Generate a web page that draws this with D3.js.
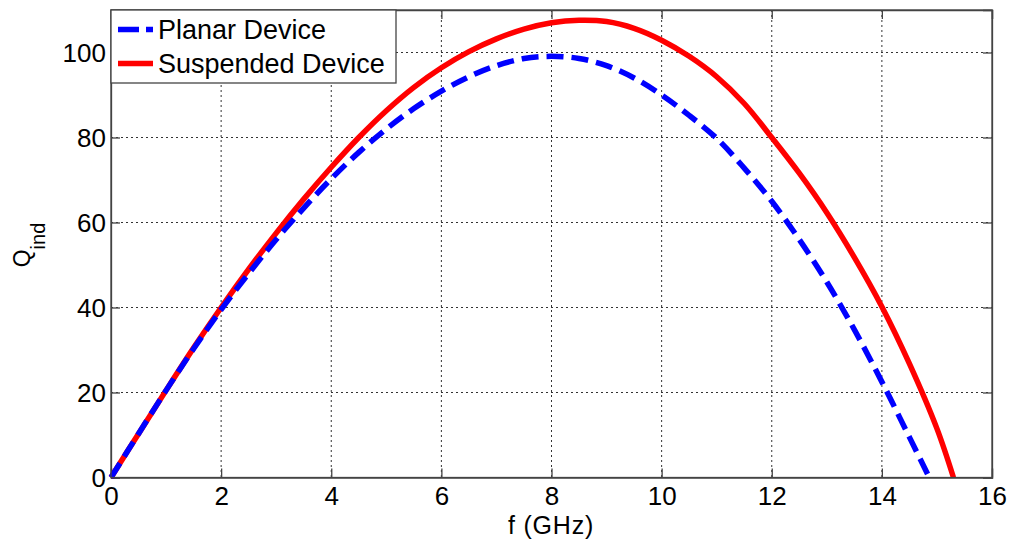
<!DOCTYPE html>
<html><head><meta charset="utf-8">
<script src="https://cdn.jsdelivr.net/npm/d3@7"></script>
<style>body{margin:0;background:#fff;} svg{display:block;font-family:"Liberation Sans",Arial,sans-serif;}</style>
</head><body><svg id="c" width="1018" height="547"></svg>
<script>
const freqPlanar = [0,0.5,1,1.5,2,2.5,3,3.5,4,4.5,5,5.5,6,6.5,7,7.5,8,8.5,9,9.5,10,10.5,11,11.5,12,12.5,13,13.5,14,14.5,14.86];
const qPlanar    = [0,10.3,20.5,30.3,39.5,48,56,63.4,70.3,76.5,82,86.8,90.9,94.3,96.9,98.6,99.1,98.6,96.9,94,90,85.2,79.8,72.8,65,56,46,34.8,22.5,9.5,0];
const freqSusp   = [0,0.5,1,1.5,2,2.5,3,3.5,4,4.5,5,5.5,6,6.5,7,7.5,8,8.5,9,9.5,10,10.5,11,11.5,12,12.5,13,13.5,14,14.5,15,15.3];
const qSusp      = [0,10.3,20.5,30.5,40,49,57.5,65.5,73,80,86.3,91.8,96.4,100.2,103.2,105.5,107,107.6,107.3,105.7,102.9,99.1,94.3,88,80,71.6,62.3,51.8,40.2,26.8,11.5,0];
const xTicks = [0,2,4,6,8,10,12,14,16];
const yTicks = [0,20,40,60,80,100];
const seriesNames = ["Planar Device","Suspended Device"];

const svg = d3.select("#c");
const L=111, R=992, T=10, B=477.5;
const x = d3.scaleLinear().domain([0,16]).range([L,R]);
const y = d3.scaleLinear().domain([0,110]).range([B,T]);
const axisColor="#444";
const FF="Liberation Sans, Arial, sans-serif";

// grid
const g = svg.append("g");
g.selectAll(".vg").data(xTicks.slice(1,-1)).enter().append("line")
 .attr("x1",d=>x(d)).attr("x2",d=>x(d)).attr("y1",T).attr("y2",B)
 .attr("stroke","#333").attr("stroke-width",1).attr("stroke-dasharray","2,3");
g.selectAll(".hg").data(yTicks.slice(1)).enter().append("line")
 .attr("x1",L).attr("x2",R).attr("y1",d=>y(d)).attr("y2",d=>y(d))
 .attr("stroke","#333").attr("stroke-width",1).attr("stroke-dasharray","2,3");

// axes
const xa = svg.append("g").attr("transform",`translate(0,${B})`)
 .call(d3.axisBottom(x).tickValues(xTicks).tickSize(-9).tickPadding(9).tickFormat(d3.format("d")));
const xt = svg.append("g").attr("transform",`translate(0,${T})`)
 .call(d3.axisTop(x).tickValues(xTicks).tickSize(-9).tickFormat(""));
const ya = svg.append("g").attr("transform",`translate(${L},0)`)
 .call(d3.axisLeft(y).tickValues(yTicks).tickSize(-9).tickPadding(5).tickFormat(d3.format("d")));
const yr = svg.append("g").attr("transform",`translate(${R},0)`)
 .call(d3.axisRight(y).tickValues(yTicks).tickSize(-9).tickFormat(""));
[xa,xt,ya,yr].forEach(a=>{
  a.selectAll("path").attr("stroke",axisColor).attr("stroke-width",1.3);
  a.selectAll("line").attr("stroke",axisColor).attr("stroke-width",1.3);
  a.selectAll("text").attr("fill","#000").style("font-size","26px").style("font-family",FF);
});
xa.selectAll("text").attr("dy","0.71em");
ya.selectAll("text").attr("dy","0.35em");

// lines
const line = d3.line().x(d=>x(d[0])).y(d=>y(d[1])).curve(d3.curveCatmullRom.alpha(0.5));
const planar = freqPlanar.map((f,i)=>[f,qPlanar[i]]);
const susp = freqSusp.map((f,i)=>[f,qSusp[i]]);
svg.append("path").datum(susp).attr("d",line).attr("fill","none")
 .attr("stroke","#ff0000").attr("stroke-width",5.5);
svg.append("path").datum(planar).attr("d",line).attr("fill","none")
 .attr("stroke","#0000ff").attr("stroke-width",5.5).attr("stroke-dasharray","17,8");

// outer box on top
svg.append("rect").attr("x",L).attr("y",T).attr("width",R-L).attr("height",B-T)
 .attr("fill","none").attr("stroke",axisColor).attr("stroke-width",1.3);

// legend
const lg = svg.append("g");
lg.append("rect").attr("x",L).attr("y",T).attr("width",285).attr("height",73)
 .attr("fill","#fff").attr("stroke",axisColor).attr("stroke-width",1.3);
const rows=[{n:seriesNames[0],c:"#0000ff",dash:"21,7"},{n:seriesNames[1],c:"#ff0000",dash:null}];
rows.forEach((r,i)=>{
  const yy = 29.5+i*34;
  const ln = lg.append("line").attr("x1",118).attr("x2",153).attr("y1",yy).attr("y2",yy)
   .attr("stroke",r.c).attr("stroke-width",5.5);
  if(r.dash) ln.attr("stroke-dasharray",r.dash);
  lg.append("text").attr("x",158).attr("y",yy).attr("dy","0.36em").text(r.n)
   .style("font-size","27px").style("font-family",FF).attr("fill","#000");
});

// titles
svg.append("text").attr("x",551).attr("y",534).attr("text-anchor","middle")
 .style("font-size","25px").style("letter-spacing","0.8px").style("font-family",FF).text("f (GHz)");
const yt = svg.append("text").attr("transform","translate(30,245) rotate(-90)").attr("text-anchor","middle")
 .style("font-family",FF);
yt.append("tspan").style("font-size","23px").text("Q");
yt.append("tspan").attr("dy","15").style("font-size","20px").text("ind");
</script></body></html>
